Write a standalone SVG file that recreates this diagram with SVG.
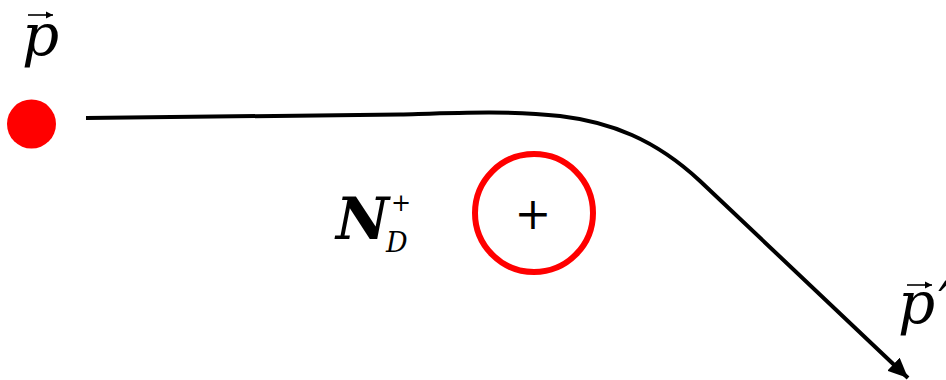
<svg xmlns="http://www.w3.org/2000/svg" width="946" height="380" viewBox="0 0 946 380">
<style>
text{font-family:'DejaVu Serif',serif;fill:#000}
.m{font-style:italic}
.vec{stroke:#000;stroke-width:1.6;fill:none}
</style>
<defs>
<marker id="ah" markerUnits="userSpaceOnUse" markerWidth="22" markerHeight="18" refX="20" refY="9" orient="auto">
<path d="M0,0 L20,9 L0,18 Z" fill="#000"/>
</marker>
<marker id="vh" markerUnits="userSpaceOnUse" markerWidth="8" markerHeight="8" refX="7" refY="4" orient="auto">
<path d="M0,0.5 L7,4 L0,7.5 Z" fill="#000"/>
</marker>
</defs>
<g id="particle-in">
<circle cx="31.5" cy="124" r="24.5" fill="#ff0000"/>
</g>
<g id="label-p">
<text class="m" x="22" y="55" font-size="58">p</text>
<line class="vec" x1="28" y1="15" x2="53" y2="15" marker-end="url(#vh)"/>
</g>
<g id="donor">
<circle cx="534" cy="213" r="59" fill="none" stroke="#ff0000" stroke-width="6"/>
<text x="533" y="229" font-size="44" text-anchor="middle">+</text>
</g>
<g id="label-nd">
<text class="m" x="336" y="239" font-size="58" font-weight="bold">N</text>
<text class="m" x="386" y="252" font-size="27">D</text>
<text x="391" y="211" font-size="24">+</text>
</g>
<g id="label-p-prime">
<text class="m" x="898" y="323" font-size="58">p<tspan dx="3">′</tspan></text>
<line class="vec" x1="907" y1="285" x2="932" y2="285" marker-end="url(#vh)"/>
</g>
<g id="connectors">
<path d="M86,118 L400,114.5 C450,113 510,110 560,116 C610,122 655,139 700,181 L908,378" fill="none" stroke="#000" stroke-width="4" marker-end="url(#ah)"/>
</g>
</svg>
